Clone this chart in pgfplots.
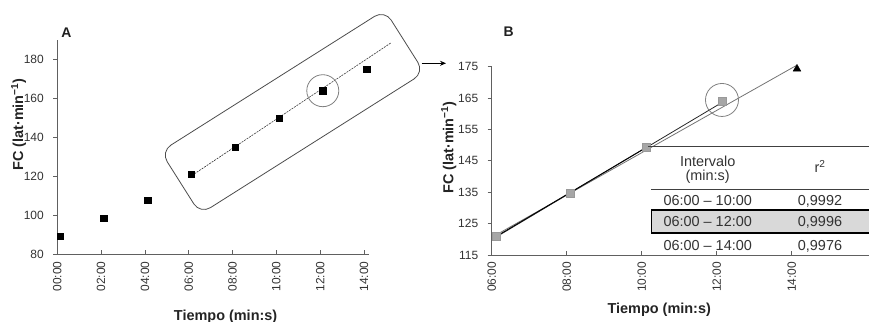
\documentclass[border=0pt]{standalone}
\usepackage{fontspec}
\setmainfont{Liberation Sans}
\usepackage{pgfplots}
\pgfplotsset{compat=1.18}
\usetikzlibrary{arrows.meta}
\definecolor{axgray}{HTML}{606060}
\definecolor{txtgray}{HTML}{333333}
\pgfplotsset{mystyle/.style={
  scale only axis, anchor=south west,
  axis lines*=left, axis line style={axgray, line width=0.8bp, -},
  tick align=inside, major tick length=4bp,
  tick style={axgray, line width=0.8bp},
  ytick style={xshift=-4bp},
  /pgf/number format/assume math mode=true,
  yticklabel style={font=\fontsize{12}{14}\selectfont, text=txtgray, xshift=-10bp},
  xticklabel style={font=\fontsize{12}{14}\selectfont, text=txtgray, rotate=90, anchor=east},
  xticklabel shift=3.5bp,
  xlabel style={font=\bfseries\fontsize{14.5}{16}\selectfont, text=txtgray!70!black, anchor=center},
  ylabel style={font=\bfseries\fontsize{14.5}{16}\selectfont, text=txtgray!70!black, anchor=center},
  clip=false,
}}
\begin{document}
\begin{tikzpicture}
\path[use as bounding box] (0bp,0bp) rectangle (869bp,322bp);
% ---------- Panel A ----------
\begin{axis}[mystyle, at={(57.3bp,67.5bp)}, width=311.7bp, height=214.5bp,
  xmin=0, xmax=14.23, ymin=80, ymax=190,
  xtick={0,2,4,6,8,10,12,14},
  xticklabels={00:00,02:00,04:00,06:00,08:00,10:00,12:00,14:00},
  ytick={80,100,120,140,160,180},
  xlabel={Tiempo (min:s)}, ylabel={FC (lat·min\textsuperscript{−1})},
  xlabel style={at={(axis description cs:0.54,-0.29)}},
  ylabel style={at={(axis description cs:-0.124,0.606)}}]
\addplot[only marks, mark=square*, mark size=3.2bp, black] coordinates
  {(0.12,89.5)(2.12,98.6)(4.12,107.8)(6.12,121.3)(8.12,135.0)(10.12,149.8)(12.12,164.0)(14.12,175.1)};
\addplot[black!80, line width=0.6bp, dash pattern=on 2bp off 1bp] coordinates {(6.25,121.3)(15.24,188.6)};
\draw[black!50, line width=0.8bp] (axis cs:12.12,164) circle[radius=16bp];
\end{axis}
% ---------- Panel B ----------
\begin{axis}[mystyle, at={(491.7bp,67bp)}, width=377.3bp, height=188.3bp,
  xmin=6, xmax=16.06, ymin=115, ymax=175,
  xtick={6,8,10,12,14},
  xticklabels={06:00,08:00,10:00,12:00,14:00},
  ytick={115,125,135,145,155,165,175},
  xlabel={Tiempo (min:s)}, ylabel={FC (lat·min\textsuperscript{−1})},
  xlabel style={at={(axis description cs:0.444,-0.29)}},
  ylabel style={at={(axis description cs:-0.114,0.571)}}]
\addplot[only marks, mark=square*, mark size=4bp, draw=black!40, fill=black!35] coordinates
  {(6.13,121.1)(8.10,134.6)(10.12,149.4)(12.14,164.1)};
\addplot[only marks, mark=triangle*, mark size=4.5bp, black] coordinates {(14.14,174.3)};
\addplot[black!55, line width=0.8bp] coordinates {(6.13,121.5)(14.14,175.5)};
\addplot[black!85, line width=0.8bp] coordinates {(6.13,120.8)(12.14,163.6)};
\addplot[black, line width=0.8bp] coordinates {(6.13,121.0)(10.12,149.3)};
\draw[black!50, line width=0.8bp] (axis cs:12.14,164.4) circle[radius=16.5bp];
\end{axis}
% ---------- annotations ----------
\node[draw=black!70, line width=0.8bp, rounded corners=12bp, rotate=32.3,
  minimum width=265bp, minimum height=74bp] at (292.5bp,210bp) {};
\draw[-{Stealth[length=6bp,width=5bp]}, line width=0.8bp] (421.7bp,258.7bp) -- (446bp,258.7bp);
\node[anchor=base, font=\bfseries\fontsize{14}{16}\selectfont, text=txtgray!60!black] at (66.3bp,284bp) {A};
\node[anchor=base, font=\bfseries\fontsize{14}{16}\selectfont, text=txtgray!60!black] at (508.7bp,285.3bp) {B};
% ---------- table ----------
\draw[black!75, line width=0.8bp] (648bp,175.3bp) -- (869bp,175.3bp);
\draw[black!75, line width=0.8bp] (651bp,132.7bp) -- (869bp,132.7bp);
\draw[line width=1.8bp, fill=black!15] (651.5bp,112bp) rectangle (875bp,88.7bp);
\begin{scope}[every node/.style={anchor=base, font=\fontsize{14.5}{16}\selectfont, text=txtgray, inner sep=0pt}]
\node at (707.7bp,155.8bp) {Intervalo};
\node at (707.7bp,141bp) {(min:s)};
\node at (820bp,149bp) {r\textsuperscript{2}};
\node at (707.7bp,116.8bp) {06:00 – 10:00};
\node at (820bp,116.8bp) {0,9992};
\node at (707.7bp,95.1bp) {06:00 – 12:00};
\node at (820bp,95.1bp) {0,9996};
\node at (707.7bp,71.8bp) {06:00 – 14:00};
\node at (820bp,71.8bp) {0,9976};
\end{scope}
\end{tikzpicture}
\end{document}
